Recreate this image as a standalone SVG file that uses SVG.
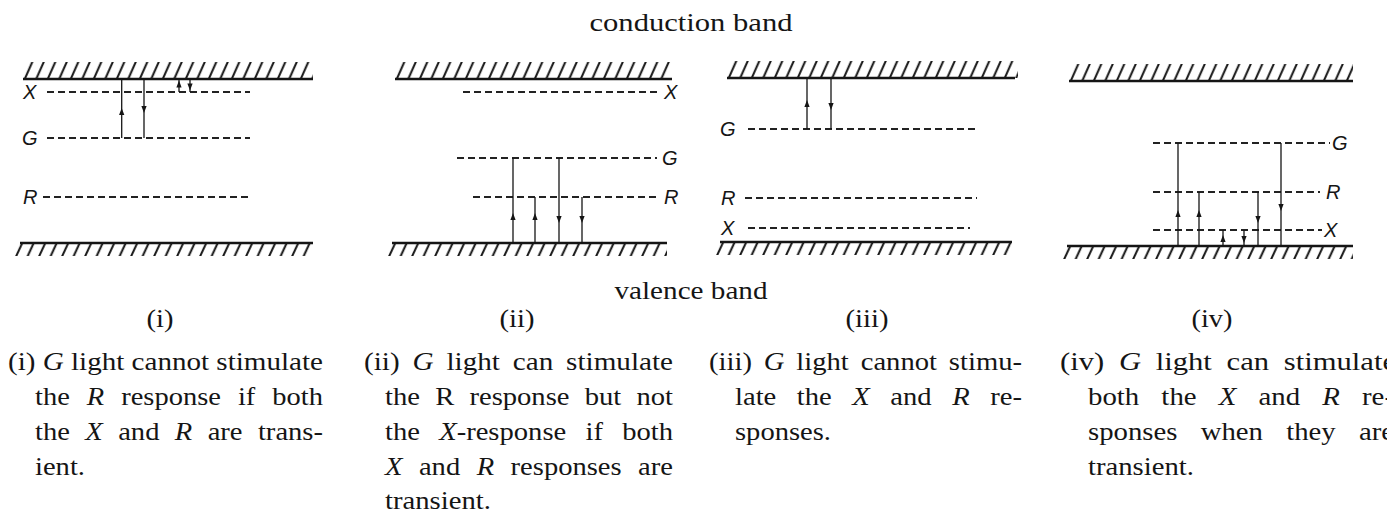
<svg xmlns="http://www.w3.org/2000/svg" width="1387" height="516" viewBox="0 0 1387 516">
<style>
.band{stroke:#151515;stroke-width:2.5;fill:none}
.lvl{stroke:#222;stroke-width:1.8;stroke-dasharray:7 4;fill:none}
.tr{stroke:#151515;stroke-width:1.3;fill:none;marker-mid:url(#ah)}
.lbl{font-family:"Liberation Sans",Arial,sans-serif;font-style:italic;font-size:20px;fill:#151515}
.cap{font-family:"Liberation Serif","Times New Roman",serif;font-size:26px;fill:#151515}
.it{font-style:italic}
</style>
<defs>
<pattern id="hT" patternUnits="userSpaceOnUse" width="11.5" height="17"><path d="M1.5,17.5 L9.5,-0.5" stroke="#151515" stroke-width="2"/></pattern>
<pattern id="hB" patternUnits="userSpaceOnUse" width="11.5" height="13"><path d="M1,13.5 L7.5,-0.5" stroke="#151515" stroke-width="2"/></pattern>
<marker id="ah" viewBox="-4 -3 8 6" markerWidth="8" markerHeight="6" refX="0" refY="0" orient="auto" markerUnits="userSpaceOnUse"><path d="M4,0 L-3,-2.6 L-3,2.6 Z" fill="#151515"/></marker>
</defs>
<rect width="1387" height="516" fill="#fff"/>

<g id="titles">
<text class="cap" x="691" y="31" text-anchor="middle" textLength="203" lengthAdjust="spacingAndGlyphs">conduction band</text>
<text class="cap" x="691" y="299" text-anchor="middle" textLength="153" lengthAdjust="spacingAndGlyphs">valence band</text>
</g>

<g id="panel-i">
<g transform="translate(23,62)"><rect width="290" height="17" fill="url(#hT)"/><line class="band" x1="0" y1="17" x2="290" y2="17"/></g>
<g transform="translate(15,243)"><rect width="298" height="13" fill="url(#hB)"/><line class="band" x1="5" y1="0" x2="298" y2="0"/></g>
<line class="lvl" x1="47" y1="92" x2="250" y2="92"/>
<line class="lvl" x1="47" y1="138" x2="250" y2="138"/>
<line class="lvl" x1="43" y1="197" x2="250" y2="197"/>
<text class="lbl" x="23" y="99">X</text>
<text class="lbl" x="22" y="145">G</text>
<text class="lbl" x="23" y="204">R</text>
<text class="cap" x="160" y="327" text-anchor="middle" textLength="27" lengthAdjust="spacingAndGlyphs">(i)</text>
<text class="cap" x="8" y="370" textLength="315" lengthAdjust="spacingAndGlyphs">(i) <tspan class="it">G</tspan> light cannot stimulate</text>
<text class="cap" x="35" y="405" word-spacing="9" textLength="288" lengthAdjust="spacingAndGlyphs">the <tspan class="it">R</tspan> response if both</text>
<text class="cap" x="35" y="440" word-spacing="7.5" textLength="288" lengthAdjust="spacingAndGlyphs">the <tspan class="it">X</tspan> and <tspan class="it">R</tspan> are trans-</text>
<text class="cap" x="35" y="475" textLength="50" lengthAdjust="spacingAndGlyphs">ient.</text>
</g>

<g id="panel-ii">
<g transform="translate(395,62)"><rect width="277" height="17" fill="url(#hT)"/><line class="band" x1="0" y1="17" x2="277" y2="17"/></g>
<g transform="translate(388,243)"><rect width="279" height="13" fill="url(#hB)"/><line class="band" x1="4" y1="0" x2="279" y2="0"/></g>
<line class="lvl" x1="463" y1="92" x2="657" y2="92"/>
<line class="lvl" x1="457" y1="158" x2="657" y2="158"/>
<line class="lvl" x1="473" y1="197" x2="657" y2="197"/>
<text class="lbl" x="664" y="99">X</text>
<text class="lbl" x="662" y="165">G</text>
<text class="lbl" x="664" y="204">R</text>
<text class="cap" x="517" y="327" text-anchor="middle" textLength="35" lengthAdjust="spacingAndGlyphs">(ii)</text>
<text class="cap" x="364" y="370" word-spacing="5" textLength="309" lengthAdjust="spacingAndGlyphs">(ii)  <tspan class="it">G</tspan> light can stimulate</text>
<text class="cap" x="385" y="405" word-spacing="7.3" textLength="288" lengthAdjust="spacingAndGlyphs">the R response but not</text>
<text class="cap" x="385" y="440" word-spacing="11" textLength="288" lengthAdjust="spacingAndGlyphs">the <tspan class="it">X</tspan>-response if both</text>
<text class="cap" x="385" y="475" word-spacing="8.5" textLength="288" lengthAdjust="spacingAndGlyphs"><tspan class="it">X</tspan> and <tspan class="it">R</tspan> responses are</text>
<text class="cap" x="385" y="509" textLength="106" lengthAdjust="spacingAndGlyphs">transient.</text>
</g>

<g id="panel-iii">
<g transform="translate(727,61)"><rect width="291" height="17" fill="url(#hT)"/><line class="band" x1="0" y1="17" x2="288" y2="17"/></g>
<g transform="translate(716,242)"><rect width="296" height="13" fill="url(#hB)"/><line class="band" x1="4" y1="0" x2="296" y2="0"/></g>
<line class="lvl" x1="748" y1="129" x2="977" y2="129"/>
<line class="lvl" x1="745" y1="198" x2="977" y2="198"/>
<line class="lvl" x1="748" y1="228" x2="970" y2="228"/>
<text class="lbl" x="720" y="136">G</text>
<text class="lbl" x="721" y="205">R</text>
<text class="lbl" x="721" y="235">X</text>
<text class="cap" x="867" y="327" text-anchor="middle" textLength="43" lengthAdjust="spacingAndGlyphs">(iii)</text>
<text class="cap" x="709" y="370" word-spacing="4.3" textLength="313" lengthAdjust="spacingAndGlyphs">(iii)  <tspan class="it">G</tspan> light cannot stimu-</text>
<text class="cap" x="735" y="405" word-spacing="12.2" textLength="287" lengthAdjust="spacingAndGlyphs">late the <tspan class="it">X</tspan> and <tspan class="it">R</tspan> re-</text>
<text class="cap" x="735" y="440" textLength="96" lengthAdjust="spacingAndGlyphs">sponses.</text>
</g>

<g id="panel-iv">
<g transform="translate(1069,64)"><rect width="284" height="17" fill="url(#hT)"/><line class="band" x1="0" y1="17" x2="284" y2="17"/></g>
<g transform="translate(1063,246)"><rect width="290" height="13" fill="url(#hB)"/><line class="band" x1="4" y1="0" x2="290" y2="0"/></g>
<line class="lvl" x1="1153" y1="143" x2="1330" y2="143"/>
<line class="lvl" x1="1153" y1="192" x2="1320" y2="192"/>
<line class="lvl" x1="1153" y1="230" x2="1322" y2="230"/>
<text class="lbl" x="1332" y="150">G</text>
<text class="lbl" x="1326" y="199">R</text>
<text class="lbl" x="1324" y="237">X</text>
<text class="cap" x="1212" y="327" text-anchor="middle" textLength="41" lengthAdjust="spacingAndGlyphs">(iv)</text>
<text class="cap" x="1060" y="370" word-spacing="6" textLength="336" lengthAdjust="spacingAndGlyphs">(iv)  <tspan class="it">G</tspan> light can stimulate</text>
<text class="cap" x="1088" y="405" word-spacing="13.5" textLength="306" lengthAdjust="spacingAndGlyphs">both the <tspan class="it">X</tspan> and <tspan class="it">R</tspan> re-</text>
<text class="cap" x="1088" y="440" word-spacing="14.5" textLength="306" lengthAdjust="spacingAndGlyphs">sponses when they are</text>
<text class="cap" x="1088" y="475" textLength="106" lengthAdjust="spacingAndGlyphs">transient.</text>
</g>

<g id="connectors">
<polyline class="tr" points="121.7,138 121.7,112 121.7,79"/>
<polyline class="tr" points="144,79 144,109 144,138"/>
<polyline class="tr" points="179,92 179,84.5 179,79"/>
<polyline class="tr" points="190,79 190,86.5 190,92"/>
<polyline class="tr" points="513,243 513,217 513,158"/>
<polyline class="tr" points="535,243 535,217 535,197"/>
<polyline class="tr" points="559,158 559,219 559,243"/>
<polyline class="tr" points="582,197 582,219 582,243"/>
<polyline class="tr" points="807,129 807,104 807,78"/>
<polyline class="tr" points="831,78 831,106 831,129"/>
<polyline class="tr" points="1178,246 1178,214 1178,143"/>
<polyline class="tr" points="1199,246 1199,214 1199,192"/>
<polyline class="tr" points="1223,246 1223,239 1223,230"/>
<polyline class="tr" points="1244,230 1244,239 1244,246"/>
<polyline class="tr" points="1258,192 1258,219 1258,246"/>
<polyline class="tr" points="1281,143 1281,207 1281,246"/>
</g>
</svg>
